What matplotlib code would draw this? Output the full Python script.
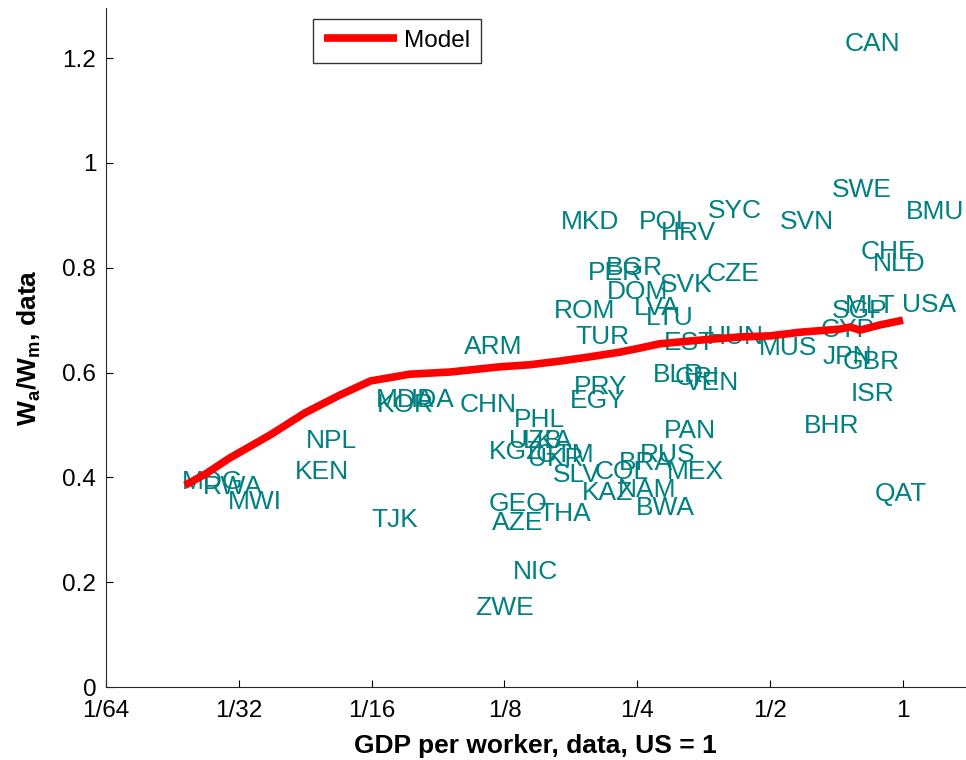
import matplotlib
matplotlib.use("Agg")
import matplotlib.pyplot as plt
import numpy as np

plt.rcParams['font.family'] = ['Liberation Sans', 'DejaVu Sans']
plt.rcParams['mathtext.fontset'] = 'custom'
plt.rcParams['mathtext.rm'] = 'Liberation Sans'
plt.rcParams['mathtext.bf'] = 'Liberation Sans:bold'
plt.rcParams['mathtext.it'] = 'Liberation Sans:italic'

# Country data: GDP per worker (US = 1), Wa/Wm
countries = ["CAN", "SWE", "BMU", "SVN", "SYC", "MKD", "POL", "HRV", "CHE", "NLD",
             "CZE", "BGR", "PER", "SVK", "DOM", "LVA", "LTU", "ROM", "TUR", "MLT",
             "SGP", "USA", "CYP", "EST", "HUN", "MUS", "JPN", "GBR", "ISR", "BHR",
             "QAT", "ARM", "BLR", "CRI", "VEN", "PRY", "EGY", "CHN", "KOR", "MDA",
             "IDA", "PHL", "UZB", "LKA", "KGZ", "UKR", "GTM", "PAN", "BRA", "RUS",
             "SLV", "COL", "MEX", "KAZ", "NAM", "BWA", "THA", "GEO", "AZE", "NIC",
             "ZWE", "TJK", "NPL", "KEN", "MWI", "MDG", "RWA"]
gdp = [0.851, 0.807, 1.182, 0.606, 0.416, 0.195, 0.289, 0.326, 0.925, 0.979,
       0.412, 0.246, 0.222, 0.322, 0.250, 0.277, 0.296, 0.190, 0.208, 0.842,
       0.799, 1.145, 0.750, 0.329, 0.416, 0.549, 0.750, 0.846, 0.855, 0.690,
       0.990, 0.118, 0.309, 0.341, 0.369, 0.206, 0.203, 0.115, 0.0746, 0.0746,
       0.0861, 0.150, 0.147, 0.157, 0.133, 0.163, 0.171, 0.329, 0.262, 0.293,
       0.182, 0.231, 0.338, 0.214, 0.263, 0.289, 0.171, 0.134, 0.134, 0.147,
       0.125, 0.0705, 0.0508, 0.0483, 0.0340, 0.0273, 0.0303]
wage_ratio = [1.227, 0.948, 0.906, 0.887, 0.908, 0.887, 0.887, 0.866, 0.830, 0.807,
              0.788, 0.800, 0.790, 0.767, 0.754, 0.723, 0.704, 0.718, 0.668, 0.727,
              0.718, 0.729, 0.681, 0.656, 0.668, 0.647, 0.630, 0.620, 0.559, 0.498,
              0.368, 0.649, 0.595, 0.590, 0.580, 0.573, 0.546, 0.538, 0.538, 0.548,
              0.548, 0.510, 0.469, 0.469, 0.448, 0.435, 0.443, 0.489, 0.427, 0.443,
              0.405, 0.410, 0.410, 0.370, 0.376, 0.342, 0.330, 0.349, 0.313, 0.219,
              0.151, 0.319, 0.469, 0.410, 0.353, 0.391, 0.382]

# Model line
model_gdp = [0.0236, 0.0262, 0.0298, 0.0368, 0.0441, 0.0529, 0.0621, 0.0763, 0.0939,
             0.122, 0.143, 0.167, 0.195, 0.228, 0.254, 0.281, 0.347, 0.427, 0.499,
             0.584, 0.720, 0.758, 0.799, 0.887, 1.0]
model_ratio = [0.385, 0.406, 0.437, 0.481, 0.523, 0.557, 0.584, 0.597, 0.601,
               0.611, 0.615, 0.622, 0.630, 0.639, 0.647, 0.655, 0.662, 0.668, 0.670,
               0.677, 0.683, 0.687, 0.681, 0.691, 0.700]

xticks = [1/64, 1/32, 1/16, 1/8, 1/4, 1/2, 1]
xticklabels = ["1/64", "1/32", "1/16", "1/8", "1/4", "1/2", "1"]
yticks = [0, 0.2, 0.4, 0.6, 0.8, 1.0, 1.2]
yticklabels = ["0", "0.2", "0.4", "0.6", "0.8", "1", "1.2"]

fig = plt.figure(figsize=(9.66, 7.6), dpi=100)
ax = fig.add_axes([0.1097, 0.096, 0.889, 0.893])

ax.set_xscale('log', base=2)
line, = ax.plot(model_gdp, model_ratio, color='#ff0000', linewidth=5.5,
                solid_capstyle='butt', label='Model', zorder=3)

for name, xv, yv in zip(countries, gdp, wage_ratio):
    ax.text(xv, yv, name, color='#008080', fontsize=19,
            ha='center', va='center', zorder=2)

ax.set_xlim(1/64, 1.38)
ax.set_ylim(0, 1.295)
ax.set_xticks(xticks)
ax.set_xticklabels(xticklabels)
ax.set_yticks(yticks)
ax.set_yticklabels(yticklabels)
ax.xaxis.set_minor_locator(matplotlib.ticker.NullLocator())
ax.tick_params(direction='in', length=5, width=0.8, labelsize=17.5)
ax.tick_params(axis='x', pad=9)
ax.tick_params(axis='y', pad=7)

for s in ['top', 'right']:
    ax.spines[s].set_visible(False)
for s in ['left', 'bottom']:
    ax.spines[s].set_linewidth(0.8)
    ax.spines[s].set_color('#262626')

ax.set_xlabel('GDP per worker, data, US = 1', fontsize=19, fontweight='bold', labelpad=9)
ax.set_ylabel(r'$\mathbf{W_a/W_m}$, data', fontsize=19, fontweight='bold', labelpad=14)

leg = ax.legend(handles=[line], loc='upper left', bbox_to_anchor=(313/966, 1 - 19/760),
                bbox_transform=fig.transFigure, fontsize=17.5, frameon=True,
                fancybox=False, handlelength=3.0, borderpad=0.45, handletextpad=0.3,
                borderaxespad=0)
leg.get_frame().set_edgecolor('black')
leg.get_frame().set_linewidth(1.0)

fig.savefig('out.png', dpi=100)
